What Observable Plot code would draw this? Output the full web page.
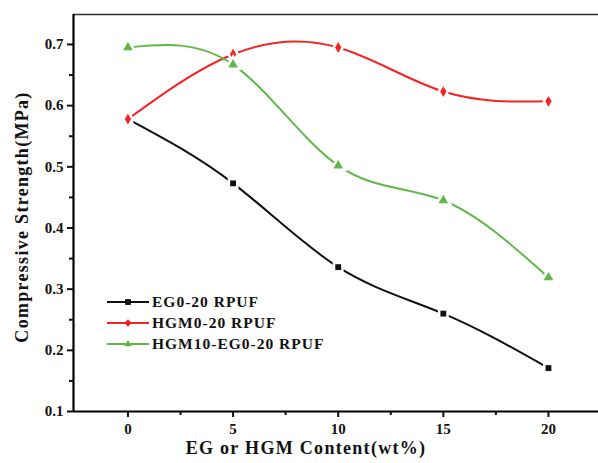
<!DOCTYPE html>
<html>
<head>
<meta charset="utf-8">
<script src="https://cdn.jsdelivr.net/npm/d3@7"></script>
<script src="https://cdn.jsdelivr.net/npm/@observablehq/plot@0.6"></script>
<style>
  html, body { margin: 0; padding: 0; background: #fff; }
  #wrap { position: relative; width: 598px; height: 463px; overflow: hidden; }
  #legend { position: absolute; left: 0; top: 0; pointer-events: none; }
</style>
</head>
<body>
<div id="wrap"></div>
<script>
// ---- data ----
const contents = [0, 5, 10, 15, 20];
const egValues = [0.578, 0.473, 0.336, 0.260, 0.171];
const hgmValues = [0.578, 0.684, 0.695, 0.623, 0.607];
const mixValues = [0.695, 0.667, 0.502, 0.445, 0.319];
const seriesNames = ["EG0-20 RPUF", "HGM0-20 RPUF", "HGM10-EG0-20 RPUF"];
const seriesColors = ["#111111", "#f52222", "#60b84a"];
const seriesSymbols = ["square", "diamond", "triangle"];
const xTicks = [0, 5, 10, 15, 20];
const xMinorTicks = [2.5, 7.5, 12.5, 17.5];
const yTicks = [0.1, 0.2, 0.3, 0.4, 0.5, 0.6, 0.7];
const yMinorTicks = [0.15, 0.25, 0.35, 0.45, 0.55, 0.65];
const xLabel = "EG or HGM Content(wt%)";
const yLabel = "Compressive Strength(MPa)";

const seriesValues = [egValues, hgmValues, mixValues];
const rows = seriesNames.flatMap((name, i) =>
  contents.map((c, j) => ({series: name, x: c, y: seriesValues[i][j]})));

const xDomain = [-2.59, 22.38];
const yDomain = [0.1, 0.749];
const font = "'Liberation Serif', 'Times New Roman', serif";

const marks = [];
// frame line at top
marks.push(Plot.ruleY([yDomain[1]], {stroke: "#333", strokeWidth: 1.5}));
// series
seriesNames.forEach((name, i) => {
  const d = rows.filter(r => r.series === name);
  const r = i === 2 ? 3.6 : 3.3;
  marks.push(Plot.line(d, {x: "x", y: "y", stroke: seriesColors[i], strokeWidth: 2, curve: "natural"}));
  marks.push(Plot.dot(d, {x: "x", y: "y", symbol: seriesSymbols[i], r, fill: "white", stroke: "white", strokeWidth: 5}));
  marks.push(Plot.dot(d, {x: "x", y: "y", symbol: seriesSymbols[i], r, fill: seriesColors[i], stroke: "none"}));
});
// axes
marks.push(Plot.axisX({ticks: xTicks, tickSize: 6, tickPadding: 6, tickFormat: d => String(d), fontSize: 15, fontWeight: "bold", label: null, strokeWidth: 2}));
marks.push(Plot.axisX({ticks: xMinorTicks, tickSize: 4, tickFormat: () => "", label: null, strokeWidth: 2}));
marks.push(Plot.axisY({ticks: yTicks, tickSize: 6, tickPadding: 4, tickFormat: d3.format(".1f"), fontSize: 15, fontWeight: "bold", label: null, strokeWidth: 2}));
marks.push(Plot.axisY({ticks: yMinorTicks, tickSize: 4, tickFormat: () => "", label: null, strokeWidth: 2}));
marks.push(Plot.ruleY([yDomain[0]], {stroke: "#000", strokeWidth: 2.2}));
marks.push(Plot.ruleX([xDomain[0]], {stroke: "#000", strokeWidth: 2.2}));
// axis titles
marks.push(Plot.text([xLabel], {text: d => d, frameAnchor: "bottom", textAnchor: "middle", dx: -30, dy: 42, fontSize: 18, fontWeight: "bold", fill: "#111", className: "axis-title"}));
marks.push(Plot.text([yLabel], {text: d => d, frameAnchor: "left", textAnchor: "middle", dx: -51, dy: 4, rotate: -90, fontSize: 18, fontWeight: "bold", fill: "#111", className: "axis-title"}));

const chart = Plot.plot({
  width: 598,
  height: 463,
  marginLeft: 73,
  marginRight: 0,
  marginTop: 14,
  marginBottom: 52,
  x: {domain: xDomain},
  y: {domain: yDomain},
  style: {fontFamily: font, background: "white", color: "#111", overflow: "visible"},
  marks
});
d3.select(chart).selectAll(".axis-title text").style("letter-spacing", "1.3px");
const wrap = document.getElementById("wrap");
wrap.appendChild(chart);

// legend overlay
const legendX = 107, legendY = 302, rowH = 21;
const svg = d3.select(wrap).append("svg").attr("id", "legend").attr("width", 598).attr("height", 463);
const symbolMap = {square: d3.symbolSquare, diamond: d3.symbolDiamond2, triangle: d3.symbolTriangle2};
seriesNames.forEach((name, i) => {
  const g = svg.append("g").attr("transform", `translate(${legendX},${legendY + i * rowH})`);
  g.append("line").attr("x1", 0).attr("x2", 42).attr("y1", 0).attr("y2", 0)
    .attr("stroke", seriesColors[i]).attr("stroke-width", 2);
  const r = i === 2 ? 3.6 : 3.3;
  g.append("path").attr("transform", "translate(21,0)")
    .attr("d", d3.symbol(symbolMap[seriesSymbols[i]], Math.PI * r * r)())
    .attr("fill", seriesColors[i]);
  g.append("text").attr("x", 45).attr("y", 0).attr("dy", "0.35em")
    .attr("font-family", font).attr("font-weight", "bold").attr("font-size", 15.5)
    .style("letter-spacing", "1px")
    .attr("fill", "#111").text(name);
});
</script>
</body>
</html>
